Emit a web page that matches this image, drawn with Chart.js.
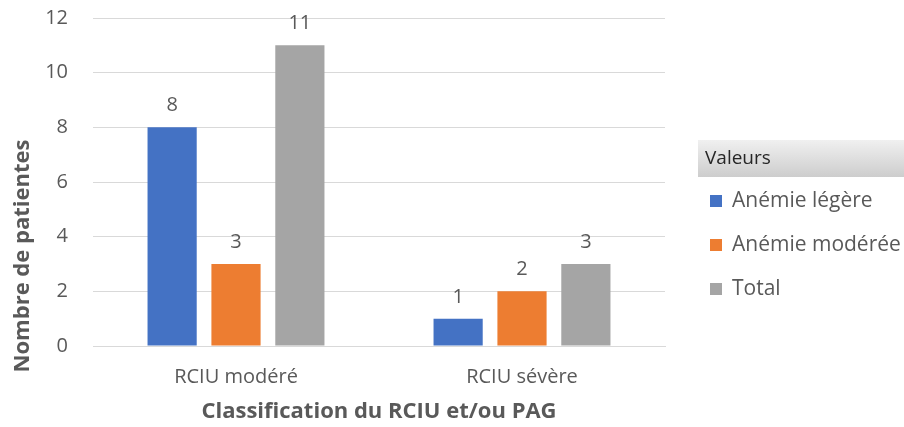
<!DOCTYPE html>
<html>
<head>
<meta charset="utf-8">
<script src="https://cdn.jsdelivr.net/npm/chart.js@4.4.0/dist/chart.umd.min.js"></script>
<style>
  html, body { margin: 0; padding: 0; background: #ffffff; }
  #wrap { width: 904px; height: 427px; position: relative; }
</style>
</head>
<body>
<div id="wrap"><canvas id="c" width="904" height="427"></canvas></div>
<script>
// Patient counts per growth-restriction class
const categories = ['RCIU modéré', 'RCIU sévère'];
const seriesNames = ['Anémie légère', 'Anémie modérée', 'Total'];
const anemieLegere = [8, 1];
const anemieModeree = [3, 2];
const total = [11, 3];
const yTicks = [0, 2, 4, 6, 8, 10, 12];
const yTitle = 'Nombre de patientes';
const xTitle = 'Classification du RCIU et/ou PAG';

const colors = ['#4472c4', '#ed7d31', '#a5a5a5'];
const FONT = '"Open Sans", sans-serif';
const TEXT = '#595959';

// Value labels above each bar
const valueLabels = {
  id: 'valueLabels',
  afterDatasetsDraw(chart) {
    const ctx = chart.ctx;
    ctx.save();
    ctx.font = '20px ' + FONT;
    ctx.fillStyle = TEXT;
    ctx.textAlign = 'center';
    ctx.textBaseline = 'alphabetic';
    chart.data.datasets.forEach((ds, i) => {
      chart.getDatasetMeta(i).data.forEach((bar, j) => {
        ctx.fillText(String(ds.data[j]), bar.x, bar.y - 16);
      });
    });
    ctx.restore();
  }
};

// Rotated y-axis title, centred a little below the plot middle
const yAxisTitle = {
  id: 'yAxisTitle',
  afterDraw(chart) {
    const ctx = chart.ctx;
    ctx.save();
    ctx.translate(23, 256);
    ctx.rotate(-Math.PI / 2);
    ctx.font = 'bold 22px ' + FONT;
    ctx.fillStyle = TEXT;
    ctx.textAlign = 'center';
    ctx.textBaseline = 'middle';
    ctx.fillText(yTitle, 0, 0);
    ctx.restore();
  }
};

// Legend panel with a shaded "Valeurs" header on the right
const sideLegend = {
  id: 'sideLegend',
  afterDraw(chart) {
    const ctx = chart.ctx;
    const x0 = 698, y0 = 140, w = 904 - x0, h = 37;
    ctx.save();
    const g = ctx.createLinearGradient(0, y0, 0, y0 + h);
    g.addColorStop(0, '#f0f0f0');
    g.addColorStop(1, '#cdcdcd');
    ctx.fillStyle = g;
    ctx.fillRect(x0, y0, w, h);
    ctx.font = '19px ' + FONT;
    ctx.fillStyle = '#262626';
    ctx.textBaseline = 'middle';
    ctx.textAlign = 'left';
    ctx.fillText('Valeurs', 705, y0 + h / 2);
    ctx.font = '21px ' + FONT;
    chart.data.datasets.forEach((ds, i) => {
      const cy = 201 + i * 44;
      ctx.fillStyle = ds.backgroundColor;
      ctx.fillRect(710, cy - 6, 12, 12);
      ctx.fillStyle = TEXT;
      ctx.fillText(ds.label, 732, cy);
    });
    ctx.restore();
  }
};

new Chart(document.getElementById('c'), {
  type: 'bar',
  data: {
    labels: categories,
    datasets: [
      { label: seriesNames[0], data: anemieLegere, backgroundColor: colors[0] },
      { label: seriesNames[1], data: anemieModeree, backgroundColor: colors[1] },
      { label: seriesNames[2], data: total, backgroundColor: colors[2] }
    ]
  },
  options: {
    responsive: false,
    animation: false,
    devicePixelRatio: 1,
    layout: { padding: { left: 0, right: 239, top: 18, bottom: 0 } },
    categoryPercentage: 0.67,
    barPercentage: 0.77,
    plugins: {
      legend: { display: false },
      tooltip: { enabled: false }
    },
    scales: {
      x: {
        afterFit(axis) { axis.height = 81; axis.paddingLeft = 0; axis.paddingRight = 0; },
        grid: { display: false, drawTicks: false },
        border: { display: true, color: '#d9d9d9', width: 1 },
        ticks: { color: TEXT, font: { family: FONT, size: 20 }, padding: 19 },
        title: {
          display: true,
          text: xTitle,
          color: TEXT,
          font: { family: FONT, size: 22, weight: 'bold' },
          padding: { top: 0, bottom: 2 }
        }
      },
      y: {
        min: 0,
        max: 12,
        afterFit(axis) { axis.width = 93; axis.paddingTop = 0; axis.paddingBottom = 0; },
        afterBuildTicks(axis) { axis.ticks = yTicks.map(v => ({ value: v })); },
        grid: { color: '#d9d9d9', lineWidth: 1, drawTicks: false },
        border: { display: false },
        ticks: { color: TEXT, font: { family: FONT, size: 20 }, padding: 25 },
        title: { display: false }
      }
    }
  },
  plugins: [valueLabels, yAxisTitle, sideLegend]
});
</script>
</body>
</html>
